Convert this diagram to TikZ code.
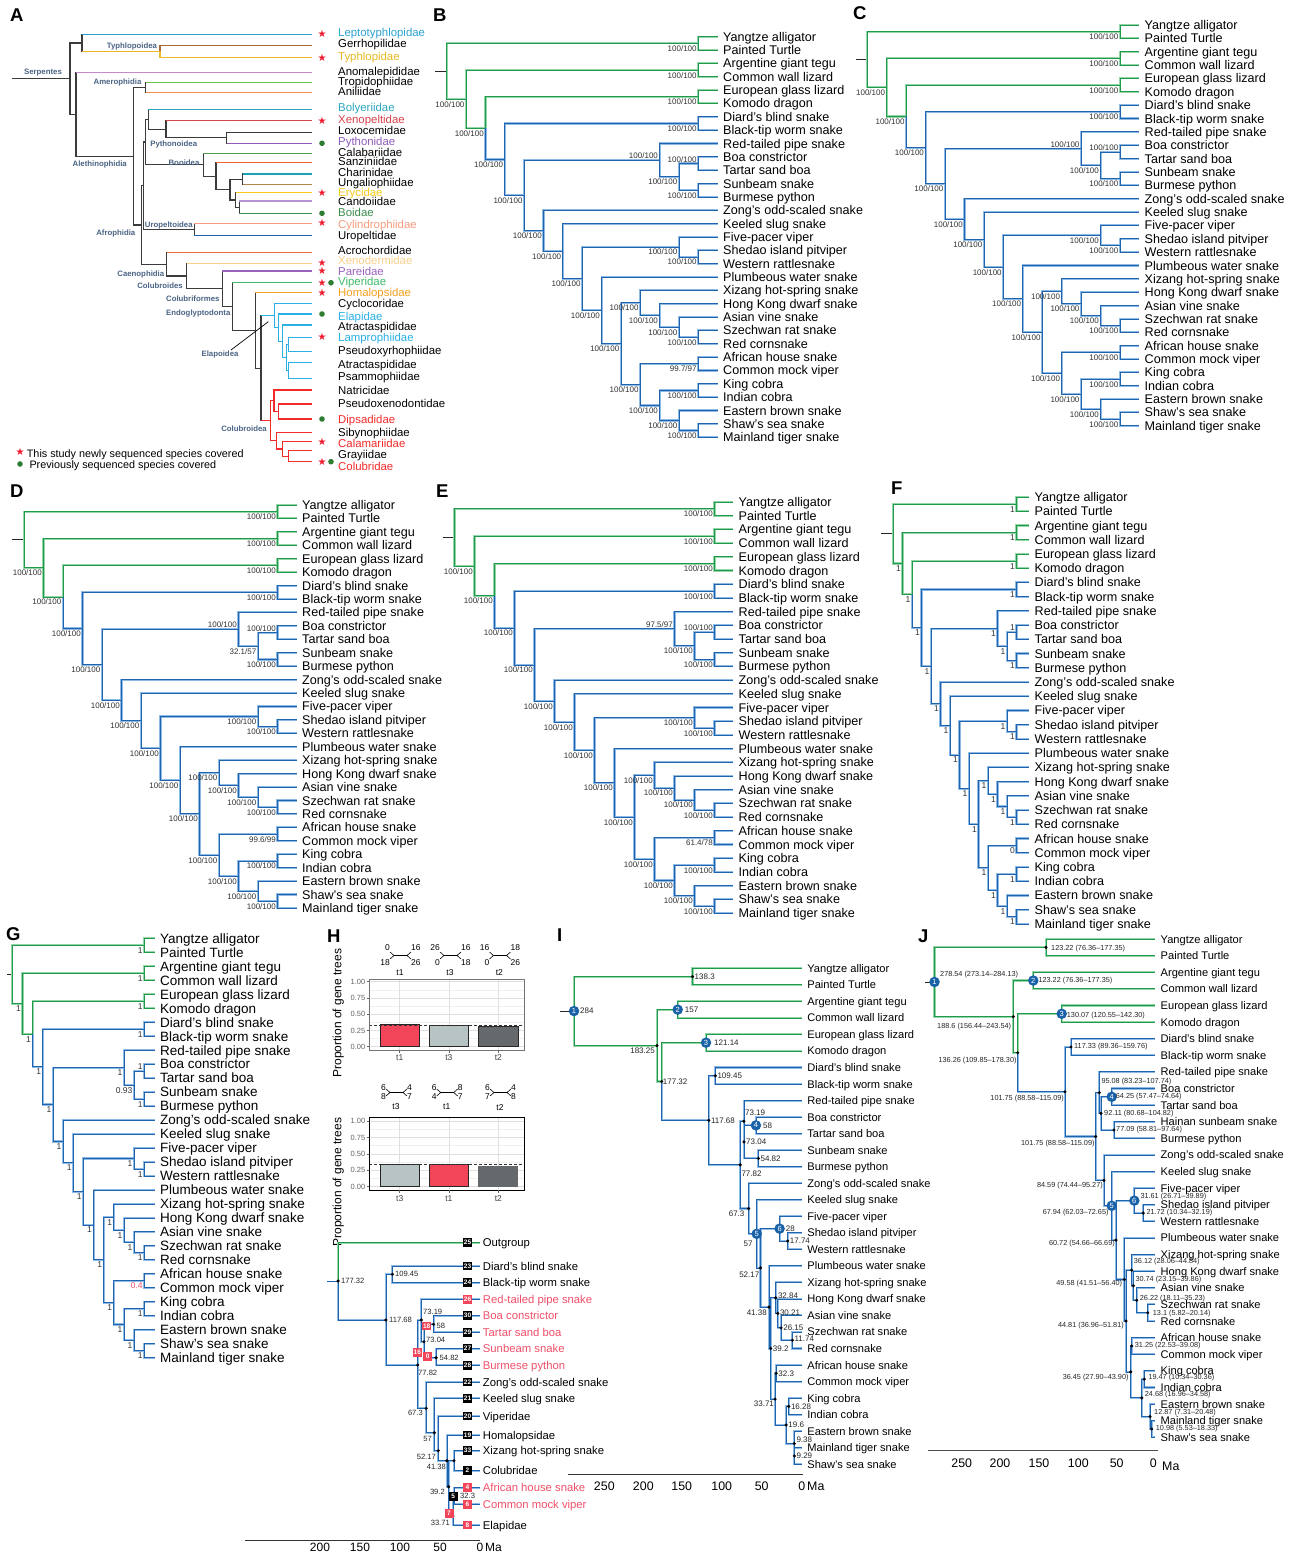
\documentclass[tikz,border=0pt]{standalone}
\usepackage{fontspec}
\setmainfont{Liberation Sans}
\newfontfamily\djv{DejaVu Sans}
\usetikzlibrary{calc}
\definecolor{gdark}{HTML}{1F9A4C}
\definecolor{glight}{HTML}{95D6A8}
\definecolor{bdark}{HTML}{1F64AF}
\definecolor{blight}{HTML}{8FBAE3}
\definecolor{clab}{HTML}{4A6485}
\definecolor{hred}{HTML}{F2455A}
\definecolor{tred}{HTML}{F0506A}
\definecolor{hlg}{HTML}{B8C4C4}
\definecolor{hdg}{HTML}{65696B}
\definecolor{cblue}{HTML}{1A62A8}
\definecolor{kk}{HTML}{3B3B3B}
\definecolor{cLep}{HTML}{2BA3D3}
\definecolor{cTy}{HTML}{E8B923}
\definecolor{cGer}{HTML}{A86B3C}
\definecolor{cAno}{HTML}{C987CC}
\definecolor{cTro}{HTML}{6CC24A}
\definecolor{cAni}{HTML}{F58A4B}
\definecolor{cBol}{HTML}{2BA8BC}
\definecolor{cXen}{HTML}{D9434D}
\definecolor{cPyt}{HTML}{8E5CB8}
\definecolor{cCal}{HTML}{4E9A4E}
\definecolor{cSan}{HTML}{EE6233}
\definecolor{cCha}{HTML}{1BA3B3}
\definecolor{cUng}{HTML}{B3854F}
\definecolor{cEry}{HTML}{F6C918}
\definecolor{cCan}{HTML}{B893D6}
\definecolor{cBoi}{HTML}{3E8E4E}
\definecolor{cCyl}{HTML}{F99C7E}
\definecolor{cUro}{HTML}{2060B0}
\definecolor{cAcr}{HTML}{EC6A3C}
\definecolor{cXed}{HTML}{F9D08B}
\definecolor{cPar}{HTML}{9B62C0}
\definecolor{cVip}{HTML}{3DBB6A}
\definecolor{cHom}{HTML}{F4A020}
\definecolor{cEla}{HTML}{2AB0E5}
\definecolor{cCol}{HTML}{F22A2A}
\definecolor{cDot}{HTML}{2E7D32}
\definecolor{cStar}{HTML}{EE1C2E}
\newcommand\fsz[1]{\fontsize{#1}{#1}\selectfont}
\def\kylist{{0.5,2.5,4.5,6.5,9.5,11.5,10.5,9.25,16.5,15.75,22.5,21.75,20.875,19.9375,24.5,26.5,29.5,28.75,27.625,26.0625,23,20.5,18.125,16.0625,14.53125,11.890625,9.1953125,6.84765625,4.673828125,2.5869140625}}
\def\hlist{{1,1,1,1,1,1,2,3,1,2,1,2,3,4,1,1,1,2,3,4,5,6,7,8,9,10,11,12,13,14}}
\def\gedges{n30/n1,n1/L0,n1/L1,n30/n29,n29/n2,n2/L2,n2/L3,n29/n28,n28/n3,n3/L4,n3/L5}
\def\bedges{n28/n27,n27/n4,n4/L6,n4/L7,n27/n26,n26/n8,n8/L8,n8/n7,n7/n5,n5/L9,n5/L10,n7/n6,n6/L11,n6/L12,n26/n25,n25/L13,n25/n24,n24/L14,n24/n23,n23/n10,n10/L15,n10/n9,n9/L16,n9/L17,n23/n22,n22/L18,n22/n21,n21/n14,n14/L19,n14/n13,n13/L20,n13/n12,n12/L21,n12/n11,n11/L22,n11/L23,n21/n20,n20/n15,n15/L24,n15/L25,n20/n19,n19/n16,n16/L26,n16/L27,n19/n18,n18/L28,n18/n17,n17/L29,n17/L30}
\def\taxaA{Yangtze alligator,Painted Turtle,Argentine giant tegu,Common wall lizard,%
European glass lizard,Komodo dragon,Diard’s blind snake,Black-tip worm snake,%
Red-tailed pipe snake,Boa constrictor,Tartar sand boa,Sunbeam snake,Burmese python,%
Zong’s odd-scaled snake,Keeled slug snake,Five-pacer viper,Shedao island pitviper,%
Western rattlesnake,Plumbeous water snake,Xizang hot-spring snake,Hong Kong dwarf snake,%
Asian vine snake,Szechwan rat snake,Red cornsnake,African house snake,Common mock viper,%
King cobra,Indian cobra,Eastern brown snake,Shaw’s sea snake,Mainland tiger snake}
\def\taxaI{Yangtze alligator,Painted Turtle,Argentine giant tegu,Common wall lizard,%
European glass lizard,Komodo dragon,Diard’s blind snake,Black-tip worm snake,%
Red-tailed pipe snake,Boa constrictor,Tartar sand boa,Sunbeam snake,Burmese python,%
Zong’s odd-scaled snake,Keeled slug snake,Five-pacer viper,Shedao island pitviper,%
Western rattlesnake,Plumbeous water snake,Xizang hot-spring snake,Hong Kong dwarf snake,%
Asian vine snake,Szechwan rat snake,Red cornsnake,African house snake,Common mock viper,%
King cobra,Indian cobra,Eastern brown snake,Mainland tiger snake,Shaw’s sea snake}
\def\taxaJ{Yangtze alligator,Painted Turtle,Argentine giant tegu,Common wall lizard,%
European glass lizard,Komodo dragon,Diard’s blind snake,Black-tip worm snake,%
Red-tailed pipe snake,Boa constrictor,Tartar sand boa,Hainan sunbeam snake,Burmese python,%
Zong’s odd-scaled snake,Keeled slug snake,Five-pacer viper,Shedao island pitviper,%
Western rattlesnake,Plumbeous water snake,Xizang hot-spring snake,Hong Kong dwarf snake,%
Asian vine snake,Szechwan rat snake,Red cornsnake,African house snake,Common mock viper,%
King cobra,Indian cobra,Eastern brown snake,Mainland tiger snake,Shaw’s sea snake}
\def\supA{1,2,3,4,6,7,9,10,11,12,13,14,16,17,18,19,20,21,22,23,24,25,26,27,28,29}
\def\supB{1,2,3,4,6,9,10,11,12,13,14,16,17,18,19,20,21,22,23,24,25,26,27,28,29}
\tikzset{
 supl/.style={anchor=north east,inner sep=0pt,xshift=-1.5pt,yshift=-2pt,font=\fsz{8},text=black!80},
 supa/.style={anchor=south east,inner sep=0pt,xshift=-1.5pt,yshift=1pt,font=\fsz{8},text=black!80},
 supf/.style={supl,font=\fsz{8.5}},
 supfa/.style={supa,font=\fsz{8.5}},
 plet/.style={anchor=base west,inner sep=0pt,font=\fsz{18.5}\bfseries},
 ndot/.style={circle,fill=black,inner sep=0pt,minimum size=3.4pt},
 ncirc/.style={circle,fill=cblue,inner sep=0pt,minimum size=10.5pt,text=white,font=\fsz{7.5}},
 agel/.style={inner sep=0pt,font=\fsz{8},text=black!85},
 agej/.style={inner sep=0pt,font=\fsz{7.3},text=black!85},
 ageh/.style={inner sep=0pt,font=\fsz{7.6},text=black!85},
 atip/.style={anchor=base west,inner sep=0pt,yshift=-4.1pt,font=\fsz{11.4}},
 astar/.style={inner sep=0pt,font=\djv\fsz{10},text=cStar},
 adot/.style={circle,fill=cDot,inner sep=0pt,minimum size=5.6pt},
 clade/.style={inner sep=0pt,font=\fsz{7.8}\bfseries,text=clab},
 hbox/.style={inner sep=0pt,minimum width=9pt,minimum height=8.5pt,text=white,font=\fsz{6.5}\bfseries},
 htip/.style={anchor=base west,inner sep=0pt,xshift=2.7pt,yshift=-4.1pt,font=\fsz{11.3}},
 qn/.style={inner sep=0pt,font=\fsz{8.5}},
 axl/.style={inner sep=0pt,font=\fsz{12.4}},
 tkl/.style={inner sep=0pt,font=\fsz{7.5},text=black!60,anchor=east},
 gmaj/.style={draw=black!12,line width=0.5pt},
 gmin/.style={draw=black!6,line width=0.35pt},
}
% #1 prefix, #2 tip x, #3 y0, #4 dy, #5 stub, #6 font size, #7 taxa
\newcommand\mktree[7]{%
  \foreach \i in {0,...,30}{\coordinate (#1L\i) at (#2,{#3+\i*#4});}%
  \foreach \k in {1,...,30}{%
    \edef\tmpx{\NX{\k}}%
    \pgfmathsetmacro\xx{\tmpx}%
    \pgfmathsetmacro\yy{#3+\kylist[\k-1]*#4}%
    \coordinate (#1n\k) at (\xx,\yy);}%
  \draw[black!85,line width=0.9pt] (#1n30) -- ++(-#5,0);%
  \foreach \a/\b in \gedges {\draw[glight,line width=2.1pt] (#1\a) |- (#1\b);}%
  \foreach \a/\b in \bedges {\draw[blight,line width=2.1pt] (#1\a) |- (#1\b);}%
  \foreach \a/\b in \gedges {\draw[gdark,line width=0.8pt] (#1\a) |- (#1\b);}%
  \foreach \a/\b in \bedges {\draw[bdark,line width=0.8pt] (#1\a) |- (#1\b);}%
  \pgfmathsetmacro\tys{-0.36*#6}%
  \foreach \lbl [count=\i from 0] in #7 {\node[anchor=base west,inner sep=0pt,xshift=5.5pt,yshift=\tys pt,font=\fsz{#6}] (#1t\i) at (#1L\i) {\lbl};}%
}
\newcommand\ed[4]{\draw[line width=1.2pt,line cap=rect,#3] (#1) -- (#1|-#2); \draw[line width=1.2pt,#4] (#1|-#2) -- (#2);}
% quartet icon: cx, cy, TL, BL, TR, BR, voff
\newcommand\qicon[7]{%
  \draw[line width=0.6pt] (#1-10,#2-3.5) -- (#1-6,#2) -- (#1-10,#2+3.5);
  \draw[line width=0.6pt] (#1-6,#2) -- (#1+7,#2);
  \draw[line width=0.6pt] (#1+11,#2-3.5) -- (#1+7,#2) -- (#1+11,#2+3.5);
  \node[qn,anchor=east] at (#1-10,#2-#7) {#3};
  \node[qn,anchor=east] at (#1-10,#2+#7) {#4};
  \node[qn,anchor=west] at (#1+11,#2-#7) {#5};
  \node[qn,anchor=west] at (#1+11,#2+#7) {#6};}
\begin{document}
\begin{tikzpicture}[x=1pt,y=-1pt]
\useasboundingbox (0,0) rectangle (1292,1552);
\fill[white] (0,0) rectangle (1292,1552);
% ================= Panel letters
\node[plet] (lA) at (10,22) {A};
\node[plet] (lB) at (433,22) {B};
\node[plet] (lC) at (853,20) {C};
\node[plet] (lD) at (10,497) {D};
\node[plet] (lE) at (436,497) {E};
\node[plet] (lF) at (891,494) {F};
\node[plet] (lG) at (6,940) {G};
\node[plet] (lH) at (327,942) {H};
\node[plet] (lI) at (557,941) {I};
\node[plet] (lJ) at (918,942) {J};
% ================= Panel A
\foreach \n/\yl/\yt/\tc/\lbl in {
1/34.3/32/cLep/Leptotyphlopidae,
2/45.7/43.3/black/Gerrhopilidae,
3/57.7/56.7/cTy/Typhlopidae,
4/72.7/71/black/Anomalepididae,
5/82.7/81/black/Tropidophiidae,
6/92.3/91/black/Aniliidae,
7/109.3/107.7/cBol/Bolyeriidae,
8/120.7/119.3/cXen/Xenopeltidae,
9/132.3/130/black/Loxocemidae,
10/143.3/141.7/cPyt/Pythonidae,
11/153.3/152.7/black/Calabariidae,
12/162.7/161.7/black/Sanziniidae,
13/174/172.7/black/Charinidae,
14/184.3/182.7/black/Ungaliophiidae,
15/192.7/192.3/cEry/Erycidae,
16/201/201.7/black/Candoiidae,
17/213.3/212.7/cBoi/Boidae,
18/223.3/224/cCyl/Cylindrophiidae,
19/235.3/235.3/black/Uropeltidae,
20/252.7/250.7/black/Acrochordidae,
21/263.3/260.7/cXed/Xenodermidae,
22/271/271/cPar/Pareidae,
23/282.7/281.7/cVip/Viperidae,
24/292.7/292.3/cHom/Homalopsidae,
25/303.3/303.3/black/Cyclocoridae,
26/314/316/cEla/Elapidae,
27/325/326.7/black/Atractaspididae,
28/337.3/337.7/cEla/Lamprophiidae,
29/351.7/350/black/Pseudoxyrhophiidae,
30/362.3/364/black/Atractaspididae,
31/378.3/376/black/Psammophiidae,
32/390/390/black/Natricidae,
33/404/403.3/black/Pseudoxenodontidae,
34/419/419.3/cCol/Dipsadidae,
35/432.7/432.3/black/Sibynophiidae,
36/441.7/443.3/cCol/Calamariidae,
37/450.7/454/black/Grayiidae,
38/461.7/466/cCol/Colubridae}
{\coordinate (a\n) at (311.7,\yl); \node[atip,text=\tc] (at\n) at (338,\yt) {\lbl};}
\coordinate (aR) at (70,78.75);
\coordinate (aS1) at (82,43);
\coordinate (aTy) at (160,51.7);
\coordinate (aS2) at (76,114.5);
\coordinate (aAl) at (133.3,156.3);
\coordinate (aAm) at (145.7,87.5);
\coordinate (aAf) at (141.7,225);
\coordinate (aHe) at (143.3,185.7);
\coordinate (aHB) at (145.7,142);
\coordinate (aBP) at (148.3,119.3);
\coordinate (aPy) at (166,129.5);
\coordinate (aLP) at (226.7,137.8);
\coordinate (aBo) at (203.3,164.7);
\coordinate (aB2) at (216,176.1);
\coordinate (aB3) at (230,189.6);
\coordinate (aB4) at (242.7,179.2);
\coordinate (aB5) at (235.7,200);
\coordinate (aB6) at (239.3,207.2);
\coordinate (aUr) at (194.3,229.3);
\coordinate (aCa) at (166.7,264.4);
\coordinate (aCs) at (186.7,276);
\coordinate (aCf) at (222.3,288.8);
\coordinate (aEn) at (232.3,306.6);
\coordinate (aEC) at (255.3,330.4);
\coordinate (aE0) at (261,368.15);
\coordinate (aEl) at (274.3,315.5);
\coordinate (aE2) at (278.3,327.6);
\coordinate (aE3) at (282.7,341.2);
\coordinate (aE4) at (286.7,357.4);
\coordinate (aE5) at (288.3,344.5);
\coordinate (aE6) at (288.3,370.3);
\coordinate (aCo) at (270.3,420.8);
\coordinate (aQ2) at (274,400.75);
\coordinate (aQ1) at (278.3,411.5);
\coordinate (aR3) at (276.7,440.8);
\coordinate (aR2) at (282.7,449);
\coordinate (aR1) at (288.3,456.2);
\draw[kk,line width=1.2pt] (aR) -- (12,78.75);
\ed{aR}{aS1}{kk}{kk}
\ed{aR}{aS2}{kk}{kk}
\ed{aS1}{a1}{kk}{cLep}
\ed{aS1}{aTy}{kk}{cTy}
\ed{aTy}{a2}{cGer}{cGer}
\ed{aTy}{a3}{cTy}{cTy}
\ed{aS2}{a4}{kk}{cAno}
\ed{aS2}{aAl}{kk}{kk}
\ed{aAl}{aAm}{kk}{kk}
\ed{aAl}{aAf}{kk}{kk}
\ed{aAm}{a5}{kk}{cTro}
\ed{aAm}{a6}{kk}{cAni}
\ed{aAf}{aHe}{kk}{kk}
\ed{aAf}{aCa}{kk}{kk}
\ed{aHe}{aHB}{kk}{kk}
\ed{aHe}{aUr}{kk}{kk}
\ed{aHB}{aBP}{kk}{kk}
\ed{aHB}{aBo}{kk}{kk}
\ed{aBP}{a7}{kk}{cBol}
\ed{aBP}{aPy}{kk}{kk}
\ed{aPy}{a8}{kk}{cXen}
\ed{aPy}{aLP}{kk}{kk}
\ed{aLP}{a9}{kk}{kk}
\ed{aLP}{a10}{kk}{cPyt}
\ed{aBo}{a11}{kk}{cCal}
\ed{aBo}{aB2}{kk}{kk}
\ed{aB2}{a12}{kk}{cSan}
\ed{aB2}{aB3}{kk}{kk}
\ed{aB3}{aB4}{kk}{kk}
\ed{aB3}{aB5}{kk}{kk}
\ed{aB4}{a13}{kk}{cCha}
\ed{aB4}{a14}{kk}{cUng}
\ed{aB5}{a15}{kk}{cEry}
\ed{aB5}{aB6}{kk}{kk}
\ed{aB6}{a16}{kk}{cCan}
\ed{aB6}{a17}{kk}{cBoi}
\ed{aUr}{a18}{kk}{cCyl}
\ed{aUr}{a19}{kk}{cUro}
\ed{aCa}{a20}{kk}{cAcr}
\ed{aCa}{aCs}{kk}{kk}
\ed{aCs}{a21}{kk}{cXed}
\ed{aCs}{aCf}{kk}{kk}
\ed{aCf}{a22}{kk}{cPar}
\ed{aCf}{aEn}{kk}{kk}
\ed{aEn}{a23}{kk}{cVip}
\ed{aEn}{aEC}{kk}{kk}
\ed{aEC}{a24}{kk}{cHom}
\ed{aEC}{aE0}{kk}{kk}
\ed{aE0}{aEl}{kk}{cEla}
\ed{aE0}{aCo}{kk}{cCol}
\foreach \p/\c in {aEl/a25,aEl/aE2,aE2/a26,aE2/aE3,aE3/a27,aE3/aE4,aE4/aE5,aE4/aE6,aE5/a28,aE5/a29,aE6/a30,aE6/a31}{\ed{\p}{\c}{cEla}{cEla}}
\foreach \p/\c in {aCo/aQ2,aCo/aR3,aQ2/a32,aQ2/aQ1,aQ1/a33,aQ1/a34,aR3/a35,aR3/aR2,aR2/a36,aR2/aR1,aR1/a37,aR1/a38}{\ed{\p}{\c}{cCol}{cCol}}
\draw[black,line width=0.7pt] (231,350) -- (268.3,321.7);
\foreach \n in {1,3,8,15,18,21,22,23,24,28,36,38}{\node[astar] (as\n) at ($(a\n)+(10.3,0)$) {★};}
\foreach \n in {10,17,26,34}{\node[adot] (ad\n) at ($(a\n)+(10.3,0)$) {};}
\foreach \n in {23,38}{\node[adot] (ae\n) at ($(a\n)+(19.3,0)$) {};}
\node[clade] (cl1) at (43,72.7) {Serpentes};
\node[clade] (cl2) at (132,46) {Typhlopoidea};
\node[clade] (cl3) at (117.5,82) {Amerophidia};
\node[clade] (cl4) at (99.7,164.3) {Alethinophidia};
\node[clade] (cl5) at (173.7,144.3) {Pythonoidea};
\node[clade] (cl6) at (184,162.7) {Booidea};
\node[clade] (cl7) at (115.8,233.3) {Afrophidia};
\node[clade] (cl8) at (168.8,225.7) {Uropeltoidea};
\node[clade] (cl9) at (140.8,274.3) {Caenophidia};
\node[clade] (cl10) at (160,285.7) {Colubroides};
\node[clade] (cl11) at (192.8,299) {Colubriformes};
\node[clade] (cl12) at (198.3,313.3) {Endoglyptodonta};
\node[clade] (cl13) at (220,354.3) {Elapoidea};
\node[clade] (cl14) at (244,428.3) {Colubroidea};
\node[astar] (lgs) at (20,451.7) {★};
\node[anchor=west,inner sep=0pt,font=\fsz{10.8}] (lgt1) at (26.7,454.3) {This study newly sequenced species covered};
\node[adot] (lgd) at (20,464) {};
\node[anchor=west,inner sep=0pt,font=\fsz{10.8}] (lgt2) at (29.3,466) {Previously sequenced species covered};
% ================= Panels B-G (cladograms)
\def\NX#1{\hx-(\hlist[#1-1]-1)*\hstep}
\def\hx{698.3}\def\hstep{19.35}
\mktree{B}{717.5}{36.7}{13.35}{11.7}{12.6}{\taxaA}
\foreach \k in \supA {\node[supl] (Bs\k) at (Bn\k) {100/100};}
\foreach \k in {5,8} {\node[supa] (Bs\k) at (Bn\k) {100/100};}
\node[supl] (Bs15) at (Bn15) {99.7/97};
\def\hx{1120}\def\hstep{19.44}
\mktree{C}{1139}{25}{13.36}{11.3}{12.6}{\taxaA}
\foreach \k in \supA {\node[supl] (Cs\k) at (Cn\k) {100/100};}
\foreach \k in {5,8} {\node[supa] (Cs\k) at (Cn\k) {100/100};}
\node[supl] (Cs15) at (Cn15) {100/100};
\def\hx{277.5}\def\hstep{19.5}
\mktree{D}{296.5}{505}{13.43}{12}{12.6}{\taxaA}
\foreach \k in \supB {\node[supl] (Ds\k) at (Dn\k) {100/100};}
\foreach \k in {5,8} {\node[supa] (Ds\k) at (Dn\k) {100/100};}
\node[supl] (Ds7) at (Dn7) {32.1/57};
\node[supl] (Ds15) at (Dn15) {99.6/99};
\def\hx{714.5}\def\hstep{20}
\mktree{E}{733}{502}{13.7}{11.5}{12.6}{\taxaA}
\foreach \k in \supA {\node[supl] (Es\k) at (En\k) {100/100};}
\node[supa] (Es5) at (En5) {100/100};
\node[supa] (Es8) at (En8) {97.5/97};
\node[supl] (Es15) at (En15) {61.4/78};
\def\hx{1016.5}\def\hstep{9.5}
\mktree{F}{1029}{497}{14.23}{12}{12.6}{\taxaA}
\foreach \k in \supA {\node[supf] (Fs\k) at (Fn\k) {1};}
\node[supf] (Fs8) at (Fn8) {1};
\node[supfa] (Fs5) at (Fn5) {1};
\node[supf] (Fs15) at (Fn15) {0};
\def\hx{144.3}\def\hstep{10.15}
\mktree{G}{154.5}{938.3}{13.98}{5}{13.5}{\taxaA}
\foreach \k in \supB {\node[supf] (Gs\k) at (Gn\k) {1};}
\node[supf] (Gs8) at (Gn8) {1};
\node[supfa] (Gs5) at (Gn5) {1};
\node[supf] (Gs7) at (Gn7) {0.93};
\node[supf,text=tred] (Gs15) at (Gn15) {0.4};
% ================= Panel I
\def\NX#1{\nxlist[#1-1]}
\def\nxlist{{692.5,677.7,706.0,715.3,755.9,758.4,744.0,743.9,787.7,779.6,792.4,781.1,777.8,775.8,776.2,788.8,794.4,794.3,786.2,775.1,770.7,769.0,760.5,756.7,748.6,740.3,708.8,661.7,657.0,574}}
\mktree{I}{801.7}{968.3}{16.53}{14}{11.1}{\taxaI}
\foreach \k in {1,4,6,7,8,9,11,12,13,14,15,16,17,18,19,20,21,22,23,25,26,27,28,29}{\node[ndot] (Id\k) at (In\k) {};}
\foreach \k/\m in {30/1,2/2,3/3,5/4,24/5,10/6}{\node[ncirc] (Ic\m) at (In\k) {\m};}
\foreach \k/\lbl/\an/\dx/\dy in {1/138.3/west/2/0,2/157/west/7/0,3/121.14/west/8/0,4/109.45/west/2/0,5/58/west/7/0,6/54.82/west/2/0,7/73.04/west/2/0,8/73.19/west/1/-8.5,9/17.74/west/2/0,10/28/west/6/0,11/11.74/west/2/-1,12/26.15/west/2/0,13/30.21/west/2/-1,14/32.84/west/2/-2,15/32.3/west/2/0,16/16.28/west/2/0,17/9.29/west/2/0,18/9.38/west/2/-3.5,19/19.6/west/2/0,20/33.71/east/-1/5,21/39.2/west/2/0,22/41.38/east/-2/6,23/52.17/east/-1/7,24/57/east/-4/9.5,25/67.3/east/-4/5.5,26/77.82/west/1/9,27/117.68/west/2/0,28/177.32/west/1/0,29/183.25/east/-2/5.5,30/284/west/6/0}
{\node[agel,anchor=\an] (Il\k) at ($(In\k)+(\dx,\dy)$) {\lbl};}
\draw[black!80,line width=0.9pt] (568.3,1474) -- (803.3,1474);
\foreach \v/\px in {250/604.3,200/643.3,150/681.7,100/721.7,50/761.7,0/801.7}{\node[axl] (Ia\v) at (\px,1486) {\v};}
\node[axl,anchor=west] (IMa) at (807,1486) {Ma};
% ================= Panel J
\def\nxlist{{1046,1033.3,1061.7,1071,1111.7,1114,1101,1099.3,1143.3,1134.3,1147.7,1136.7,1133.3,1131.7,1131.7,1144.3,1151.7,1150,1141.7,1130.7,1126,1124.3,1116,1111.7,1104,1095.7,1065,1017.7,1013.3,934.5}}
\mktree{J}{1155}{939}{16.61}{10}{11.1}{\taxaJ}
\foreach \k in {1,4,6,7,8,9,11,12,13,14,15,16,17,18,19,20,21,22,23,25,26,27,28,29}{\node[ndot] (Jd\k) at (Jn\k) {};}
\foreach \k/\m in {30/1,2/2,3/3,5/4,24/5,10/6}{\node[ncirc] (Jc\m) at (Jn\k) {\m};}
\foreach \k/\lbl/\an/\dx/\dy in {
1/123.22 (76.36–177.35)/west/5/1,
2/123.22 (76.36–177.35)/west/5/0,
3/130.07 (120.55–142.30)/west/5/2,
4/117.33 (89.36–159.76)/west/3/0,
5/64.25 (57.47–74.64)/west/4/0,
6/77.09 (58.81–97.64)/west/2/0,
7/92.11 (80.68–104.82)/west/3/0,
8/95.08 (83.23–107.74)/west/2/-11,
9/21.72 (10.34–32.19)/west/3/0,
10/31.61 (26.71–39.89)/west/6/-4.5,
11/13.1 (5.82–20.14)/west/5/1,
12/26.22 (18.11–35.23)/west/3/-2,
13/30.74 (23.15–39.86)/west/2/-6,
14/36.12 (28.06–44.84)/west/2/-8.5,
15/31.25 (22.53–39.08)/west/3/0,
16/19.47 (10.34–30.36)/west/4/-2,
17/10.98 (5.53–18.33)/west/4/0,
18/12.87 (7.31–20.48)/west/4/-4,
19/24.68 (16.96–34.58)/west/3/-3,
20/36.45 (27.90–43.90)/east/-2/5.5,
21/44.81 (36.96–51.81)/east/-2/5,
22/49.58 (41.51–56.40)/east/-2/4.5,
23/60.72 (54.66–66.69)/east/-1/4,
24/67.94 (62.03–72.65)/east/-3/7,
25/84.59 (74.44–95.27)/east/-1/5,
26/101.75 (88.58–115.09)/east/-1/7.5,
27/101.75 (88.58–115.09)/east/-1/7,
28/136.26 (109.85–178.30)/east/-1/8,
29/188.6 (156.44–243.54)/east/-2/9.5,
30/278.54 (273.14–284.13)/west/5.5/-7.7}
{\node[agej,anchor=\an] (Jl\k) at ($(Jn\k)+(\dx,\dy)$) {\lbl};}
\draw[black!70,line width=1.2pt] (927.7,1450.7) -- (1157.7,1450.7);
\foreach \v/\px in {250/961.7,200/1000,150/1039,100/1078.3,50/1116.7,0/1153.3}{\node[axl] (Ja\v) at (\px,1463.5) {\v};}
\node[axl,anchor=west] (JMa) at (1162,1466) {Ma};
% ================= Panel H : bar charts
\foreach \v in {0.125,0.375,0.625,0.875}{\draw[gmin] (369.3,{1046.7-65*\v}) -- (524,{1046.7-65*\v});}
\foreach \v in {0,0.25,0.5,0.75,1}{\draw[gmaj] (369.3,{1046.7-65*\v}) -- (524,{1046.7-65*\v});}
\foreach \px in {399.7,448.8,498.3}{\draw[gmaj] (\px,979.3) -- (\px,1050);}
\fill[hred,draw=black!85,line width=0.6pt] (380,1046.7) rectangle (419.3,{1046.7-65*0.35});
\fill[hlg,draw=black!85,line width=0.6pt] (429.3,1046.7) rectangle (468.3,{1046.7-65*0.33});
\fill[hdg,draw=black!85,line width=0.6pt] (478.3,1046.7) rectangle (518.3,{1046.7-65*0.32});
\draw[black!80,line width=0.7pt,dash pattern=on 3pt off 2pt] (369.3,{1046.7-65/3}) -- (524,{1046.7-65/3});
\draw[black!55,line width=0.7pt] (369.3,979.3) rectangle (524,1050);
\foreach \v/\lbl in {0/0.00,0.25/0.25,0.5/0.50,0.75/0.75,1/1.00}{\draw[black!60,line width=0.5pt] (366.5,{1046.7-65*\v}) -- (369.3,{1046.7-65*\v}); \node[tkl] at (365.5,{1046.7-65*\v}) {\lbl};}
\foreach \px/\lbl in {399.7/t1,448.8/t3,498.3/t2}{\draw[black!60,line width=0.5pt] (\px,1050) -- (\px,1052.5); \node[qn,text=black!75] at (\px,1057.5) {\lbl};}
\qicon{400}{955.5}{0}{18}{16}{26}{7.5}
\qicon{450}{955.5}{26}{0}{16}{18}{7.5}
\qicon{499.5}{955.5}{16}{0}{18}{26}{7.5}
\node[qn] (q1a) at (400,973) {t1};
\node[qn] (q1b) at (450,973) {t3};
\node[qn] (q1c) at (499.3,973) {t2};
\node[rotate=90,inner sep=0pt,font=\fsz{12}] (yt1) at (338.3,1013) {Proportion of gene trees};
% second chart
\foreach \v in {0.125,0.375,0.625,0.875}{\draw[gmin] (369.3,{1186.7-65.7*\v}) -- (524,{1186.7-65.7*\v});}
\foreach \v in {0,0.25,0.5,0.75,1}{\draw[gmaj] (369.3,{1186.7-65.7*\v}) -- (524,{1186.7-65.7*\v});}
\foreach \px in {399.7,448.8,498.3}{\draw[gmaj] (\px,1117.3) -- (\px,1190);}
\fill[hlg,draw=black!85,line width=0.6pt] (380,1186.7) rectangle (419.3,{1186.7-65.7*0.34});
\fill[hred,draw=black!85,line width=0.6pt] (429.3,1186.7) rectangle (468.3,{1186.7-65.7*0.34});
\fill[hdg] (478.3,1186.7) rectangle (518.3,{1186.7-65.7*0.31});
\draw[black!80,line width=0.7pt,dash pattern=on 3pt off 2pt] (369.3,{1186.7-65.7/3}) -- (524,{1186.7-65.7/3});
\draw[black,line width=0.8pt] (369.3,1117.3) rectangle (524,1190);
\foreach \v/\lbl in {0/0.00,0.25/0.25,0.5/0.50,0.75/0.75,1/1.00}{\draw[black!60,line width=0.5pt] (366.5,{1186.7-65.7*\v}) -- (369.3,{1186.7-65.7*\v}); \node[tkl] at (365.5,{1186.7-65.7*\v}) {\lbl};}
\foreach \px/\lbl in {399.7/t3,448.8/t1,498.3/t2}{\draw[black!60,line width=0.5pt] (\px,1190) -- (\px,1192.5); \node[qn,text=black!75] at (\px,1198.5) {\lbl};}
\qicon{396}{1092.5}{6}{8}{4}{7}{4.5}
\qicon{446.7}{1092.5}{6}{4}{8}{7}{4.5}
\qicon{500}{1092.5}{6}{7}{4}{8}{4.5}
\node[qn] (q2a) at (396,1106.7) {t3};
\node[qn] (q2b) at (446.7,1106.7) {t1};
\node[qn] (q2c) at (500,1107.5) {t2};
\node[rotate=90,inner sep=0pt,font=\fsz{12}] (yt2) at (338.3,1182) {Proportion of gene trees};
% ================= Panel H : tree
\foreach \i/\y in {0/1242.7,1/1266,2/1282.7,3/1299.3,4/1315.7,5/1332.3,6/1348.7,7/1365.3,8/1382,9/1398.3,10/1416,11/1435,12/1450.7,13/1470.7,14/1487.7,15/1504.3,16/1525}{\coordinate (hL\i) at (480,\y);}
\coordinate (hR) at (338.1,1281);
\coordinate (hS) at (385.9,1320);
\coordinate (hSc) at (392.4,1274.3);
\coordinate (hA) at (417.7,1365);
\coordinate (hHe) at (421.4,1320);
\coordinate (hX) at (424,1341.7);
\coordinate (hBT) at (433.6,1324.3);
\coordinate (hSB) at (436.1,1357.7);
\coordinate (hC) at (426.2,1408.3);
\coordinate (hK) at (434.4,1432.7);
\coordinate (hV) at (438.3,1450.7);
\coordinate (hW) at (446.9,1460.7);
\coordinate (hZ) at (448.6,1486.7);
\coordinate (hXC) at (454,1460.7);
\coordinate (hE) at (453,1516);
\coordinate (hAM) at (454.2,1493.3);
\def\hedges{hR/hS,hS/hSc,hSc/hL1,hSc/hL2,hS/hA,hA/hHe,hHe/hL3,hHe/hX,hX/hBT,hBT/hL4,hBT/hL5,hX/hSB,hSB/hL6,hSB/hL7,hA/hC,hC/hL8,hC/hK,hK/hL9,hK/hV,hV/hL10,hV/hW,hW/hL11,hW/hZ,hZ/hXC,hXC/hL12,hXC/hL13,hZ/hE,hE/hAM,hAM/hL14,hAM/hL15,hE/hL16}
\draw[bdark,line width=0.9pt] (hR) -- ++(-11.5,0);
\draw[glight,line width=2.1pt] (hR) |- (hL0);
\foreach \a/\b in \hedges {\draw[blight,line width=2.1pt] (\a) |- (\b);}
\draw[gdark,line width=0.8pt] (hR) |- (hL0);
\foreach \a/\b in \hedges {\draw[bdark,line width=0.8pt] (\a) |- (\b);}
\foreach \n in {hR,hS,hSc,hA,hHe,hX,hBT,hSB,hC,hK,hV,hW,hZ,hXC,hE,hAM}{\node[ndot] (d\n) at (\n) {};}
\foreach \i/\n/\bc/\tc/\lbl in {
0/25/black/black/Outgroup,
1/23/black/black/Diard’s blind snake,
2/24/black/black/Black-tip worm snake,
3/26/hred/tred/Red-tailed pipe snake,
4/30/black/tred/Boa constrictor,
5/29/black/tred/Tartar sand boa,
6/27/black/tred/Sunbeam snake,
7/28/black/tred/Burmese python,
8/22/black/black/Zong’s odd-scaled snake,
9/21/black/black/Keeled slug snake,
10/20/black/black/Viperidae,
11/19/black/black/Homalopsidae,
12/33/black/black/Xizang hot-spring snake,
13/2/black/black/Colubridae,
14/4/hred/tred/African house snake,
15/6/hred/tred/Common mock viper,
16/8/hred/black/Elapidae}
{\node[hbox,fill=\bc] (hb\i) at ($(hL\i)+(-12.5,0)$) {\n}; \node[htip,text=\tc] (ht\i) at (hL\i) {\lbl};}
\node[hbox,fill=hred] (hi18) at (426.7,1326) {18};
\node[hbox,fill=hred] (hi16) at (417.3,1352.3) {16};
\node[hbox,fill=hred] (hi0) at (427.7,1356.7) {0};
\node[hbox,fill=black] (hi5) at (453.3,1496.7) {5};
\node[hbox,fill=hred] (hi7) at (449,1513.3) {7};
\foreach \px/\py/\an/\lbl in {341/1281/west/177.32,395/1274.3/west/109.45,389/1320/west/117.68,423/1311.7/west/73.19,436.5/1325.7/west/58,426/1340/west/73.04,439.5/1357.7/west/54.82,418/1373.3/west/77.82,423/1412.7/east/67.3,432/1439.3/east/57,436/1457.3/east/52.17,446/1467.3/east/41.38,445/1491.7/east/39.2,460/1495.7/west/32.3,450/1522.7/east/33.71}
{\node[ageh,anchor=\an] at (\px,\py) {\lbl};}
\draw[black!80,line width=0.9pt] (245,1540.7) -- (480,1540.7);
\foreach \v/\px in {200/320,150/360,100/400,50/440,0/480}{\node[axl,anchor=north,font=\fsz{12}] (Ha\v) at (\px,1543) {\v};}
\node[axl,anchor=north west,font=\fsz{12}] (HMa) at (485,1543) {Ma};
\end{tikzpicture}
\end{document}
